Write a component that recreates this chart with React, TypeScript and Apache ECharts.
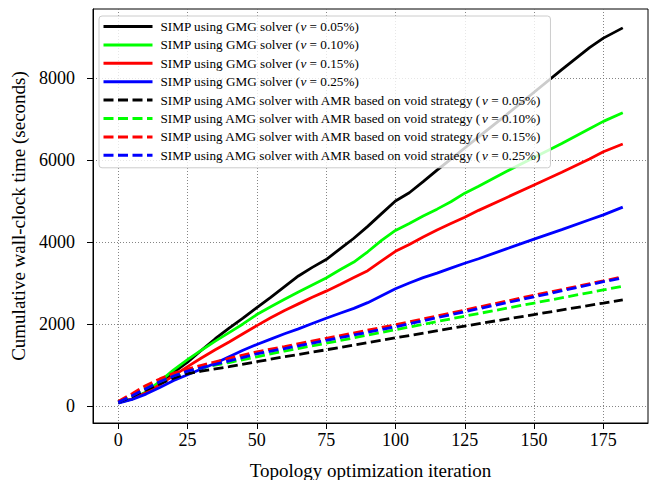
import React, { useEffect, useRef } from 'react';
import * as echarts from 'echarts';

// Iterations at which the GMG (solid) curves were sampled
const gmgIters = [0, 5, 10, 15, 20, 25, 30, 35, 40, 45, 50, 55, 60, 65, 70, 75, 80, 85, 90, 95, 100, 105, 110, 115, 120, 125, 130, 140, 150, 160, 170, 175, 182];
const gmg005 = [90, 170, 330, 560, 820, 1070, 1360, 1640, 1900, 2140, 2400, 2650, 2910, 3170, 3380, 3570, 3830, 4090, 4380, 4690, 5000, 5200, 5470, 5750, 6020, 6290, 6560, 7100, 7650, 8200, 8740, 8970, 9220];
const gmg010 = [80, 170, 340, 600, 880, 1130, 1360, 1580, 1790, 2000, 2230, 2420, 2600, 2780, 2950, 3120, 3320, 3510, 3760, 4040, 4280, 4450, 4630, 4800, 4980, 5190, 5360, 5720, 6060, 6400, 6760, 6940, 7150];
const gmg015 = [80, 170, 320, 520, 740, 960, 1170, 1370, 1560, 1760, 1960, 2150, 2330, 2490, 2650, 2800, 2960, 3130, 3300, 3540, 3770, 3940, 4120, 4290, 4450, 4600, 4770, 5080, 5390, 5700, 6020, 6200, 6390];
const gmg025 = [70, 160, 290, 450, 620, 760, 900, 1040, 1200, 1360, 1500, 1630, 1760, 1880, 2010, 2140, 2260, 2380, 2520, 2690, 2860, 3000, 3130, 3240, 3360, 3480, 3590, 3830, 4070, 4300, 4540, 4660, 4850];

// Iterations at which the AMG + AMR (dashed) curves were sampled
const amgIters = [0, 5, 10, 15, 20, 25, 30, 40, 50, 60, 75, 100, 125, 150, 175, 182];
const amg005 = [90, 230, 390, 540, 680, 790, 850, 960, 1080, 1200, 1370, 1660, 1950, 2230, 2510, 2590];
const amg010 = [100, 260, 440, 600, 740, 860, 930, 1060, 1200, 1340, 1530, 1860, 2190, 2510, 2830, 2920];
const amg015 = [110, 300, 500, 660, 800, 900, 990, 1160, 1320, 1450, 1650, 1980, 2340, 2700, 3050, 3150];
const amg025 = [90, 250, 420, 590, 730, 850, 930, 1100, 1270, 1400, 1600, 1930, 2300, 2660, 3030, 3120];

const xTicks = [0, 25, 50, 75, 100, 125, 150, 175];
const yTicks = [0, 2000, 4000, 6000, 8000];

const volumes = ['0.05', '0.10', '0.15', '0.25'];
const colors = ['#000000', '#00ff00', '#ff0000', '#0000ff'];
const gmgSets = [gmg005, gmg010, gmg015, gmg025];
const amgSets = [amg005, amg010, amg015, amg025];

const FONT = '"Liberation Serif", "DejaVu Serif", serif';

const pair = (xs: number[], ys: number[]) => xs.map((x, i) => [x, ys[i]]);

export default function App() {
  const ref = useRef<HTMLDivElement>(null);
  useEffect(() => {
    const chart = echarts.init(ref.current!, null, { renderer: 'svg' });
    const series: any[] = [];
    gmgSets.forEach((ys, i) => {
      series.push({
        type: 'line',
        name: `SIMP using GMG solver (v = ${volumes[i]}%)`,
        data: pair(gmgIters, ys),
        showSymbol: false,
        symbol: 'none',
        lineStyle: { color: colors[i], width: 2.8, type: 'solid' },
        itemStyle: { color: colors[i] },
      });
    });
    amgSets.forEach((ys, i) => {
      series.push({
        type: 'line',
        name: `SIMP using AMG solver with AMR based on void strategy (v = ${volumes[i]}%)`,
        data: pair(amgIters, ys),
        showSymbol: false,
        symbol: 'none',
        lineStyle: { color: colors[i], width: 2.8, type: [10, 4.5] },
        itemStyle: { color: colors[i] },
      });
    });
    const gridLine = { show: true, lineStyle: { color: '#666', width: 0.8, type: [1, 2] } };
    chart.setOption({
      animation: false,
      backgroundColor: '#fff',
      grid: {
        left: 93, right: 8, top: 9, bottom: 57,
        containLabel: false,
        outerBoundsMode: 'none',
        show: true, borderColor: '#000', borderWidth: 1, backgroundColor: 'transparent',
      },
      xAxis: {
        type: 'value',
        min: -9.1,
        max: 191.1,
        name: 'Topology optimization iteration',
        nameLocation: 'middle',
        nameGap: 38,
        nameTextStyle: { fontFamily: FONT, fontSize: 19, color: '#000' },
        axisLine: { show: true, onZero: false, lineStyle: { color: '#000', width: 1 } },
        axisTick: { show: true, length: 6, customValues: xTicks, lineStyle: { color: '#000', width: 1 } },
        axisLabel: { customValues: xTicks, fontFamily: FONT, fontSize: 18, color: '#000', margin: 8, formatter: (v: number) => String(v) },
        splitLine: gridLine,
      },
      yAxis: {
        type: 'value',
        min: -415,
        max: 9680,
        name: 'Cumulative wall-clock time (seconds)',
        nameLocation: 'middle',
        nameGap: 48,
        nameTextStyle: { fontFamily: FONT, fontSize: 19, color: '#000' },
        axisLine: { show: true, onZero: false, lineStyle: { color: '#000', width: 1 } },
        axisTick: { show: true, length: 6, customValues: yTicks, lineStyle: { color: '#000', width: 1 } },
        axisLabel: { customValues: yTicks, fontFamily: FONT, fontSize: 18, color: '#000', margin: 18, formatter: (v: number) => String(v) },
        splitLine: gridLine,
      },
      legend: {
        orient: 'vertical',
        left: 99,
        top: 16,
        padding: [4, 10, 6, 3],
        itemWidth: 49,
        itemHeight: 14,
        itemGap: 5.4,
        itemStyle: { opacity: 0 },
        lineStyle: { width: 3 },
        backgroundColor: 'rgba(255,255,255,0.8)',
        borderColor: '#cccccc',
        borderWidth: 1,
        borderRadius: 3,
        formatter: (name: string) => name.replace('(v =', '({i|v} ='),
        textStyle: {
          fontFamily: FONT,
          fontSize: 13.2,
          color: '#000',
          padding: [0, 0, 0, 3],
          rich: { i: { fontFamily: FONT, fontSize: 13.2, fontStyle: 'italic', color: '#000' } },
        },
        data: series.map((s) => s.name),
      },
      series,
    });
    return () => chart.dispose();
  }, []);
  return <div ref={ref} style={{ width: 656, height: 480, position: 'fixed', left: 0, top: 0 }} />;
}
